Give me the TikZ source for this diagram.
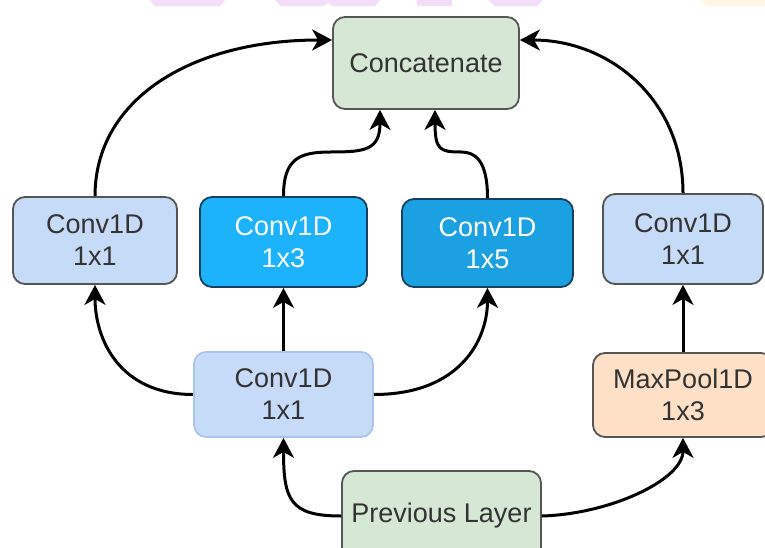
\documentclass[tikz,border=0pt]{standalone}
\usepackage{fontspec}
\setmainfont{Liberation Sans}
\usetikzlibrary{arrows.meta}

\definecolor{mergefill}{HTML}{D5E8D4}
\definecolor{lightblue}{HTML}{C6DBF8}
\definecolor{midblue}{HTML}{1CB3FC}
\definecolor{deepblue}{HTML}{1BA1E2}
\definecolor{poolfill}{HTML}{FDE0C6}
\definecolor{edgegray}{HTML}{555555}
\definecolor{edgesoft}{HTML}{A9C5EE}
\definecolor{edgenavy}{HTML}{17405E}
\definecolor{txtgray}{HTML}{333333}
\definecolor{wmpink}{HTML}{F4DDFA}
\definecolor{wmyellow}{HTML}{FFF6E3}

\begin{document}
\begin{tikzpicture}[x=1pt,y=-1pt,
  box/.style={draw=edgegray, line width=1.8pt, rounded corners=12pt, inner sep=0pt,
    align=center, font=\fontsize{27}{32}\selectfont, text=txtgray},
  lightbox/.style={box, fill=lightblue},
  mergebox/.style={box, fill=mergefill},
  link/.style={line width=3pt, -{Stealth[length=20pt,width=21pt,inset=6pt]}},
]
\useasboundingbox (0,0) rectangle (765,548);
\clip (0,0) rectangle (765,548);

% faint lettering along the top edge
\fill[wmpink] (150,0) -- (225,0) -- (220,6.5) -- (155,6.5) -- cycle;
\fill[wmpink] (275,0) -- (380,0) -- (375,6.5) -- (333,6.5) -- (328,3) -- (323,6.5) -- (281,6.5) -- cycle;
\fill[wmpink] (417,0) -- (452,0) -- (452,6.5) -- (417,6.5) -- cycle;
\fill[wmpink] (488,0) -- (543,0) -- (537,6.5) -- (495,6.5) -- cycle;
\fill[wmyellow] (700,0) -- (765,0) -- (765,6.5) -- (706,6.5) -- cycle;

% blocks
\node[mergebox, minimum width=186pt, minimum height=92pt] (concat) at (426,63) {Concatenate};
\node[lightbox, minimum width=164pt, minimum height=87pt] (c11L) at (95,240.5) {Conv1D\\1x1};
\node[box, fill=midblue, draw=edgenavy, text=white, minimum width=167pt, minimum height=90pt] (c13) at (283.5,242) {Conv1D\\1x3};
\node[box, fill=deepblue, draw=edgenavy, text=white, minimum width=171pt, minimum height=88pt] (c15) at (487.5,243) {Conv1D\\1x5};
\node[lightbox, minimum width=160pt, minimum height=90pt] (c11R) at (683,239) {Conv1D\\1x1};
\node[lightbox, draw=edgesoft, minimum width=179pt, minimum height=85pt] (c11M) at (283.5,394.5) {Conv1D\\1x1};
\node[box, fill=poolfill, minimum width=180pt, minimum height=84pt] (pool) at (683,395) {MaxPool1D\\1x3};
\node[mergebox, minimum width=199pt, minimum height=90pt] (prev) at (441.5,516) {Previous Layer};

% connectors
\draw[link] (prev.west) .. controls (290,516) and (283.5,500) .. (c11M.south);
\draw[link] (prev.east) .. controls (610,514) and (683,480) .. (pool.south);
\draw[link] (c11M.west) .. controls (120,394.5) and (95,340) .. (c11L.south);
\draw[link] (c11M.east) .. controls (460,394.5) and (487.5,340) .. (c15.south);
\draw[link] (c11M.north) -- (c13.south);
\draw[link] (pool.north) -- (c11R.south);
\draw[link] (c11L.north) .. controls (95,100) and (190,40) .. ([yshift=23pt]concat.west);
\draw[link] (c11R.north) .. controls (683,100) and (610,40) .. ([yshift=23pt]concat.east);
\draw[link] (c13.north) .. controls (283.5,158) and (300,152) .. (331,152)
  .. controls (365,152) and (380,150) .. ([xshift=-46pt]concat.south);
\draw[link] (c15.north) .. controls (487.5,160) and (475,152) .. (461,152)
  .. controls (440,152) and (435,150) .. ([xshift=9pt]concat.south);
\end{tikzpicture}
\end{document}
